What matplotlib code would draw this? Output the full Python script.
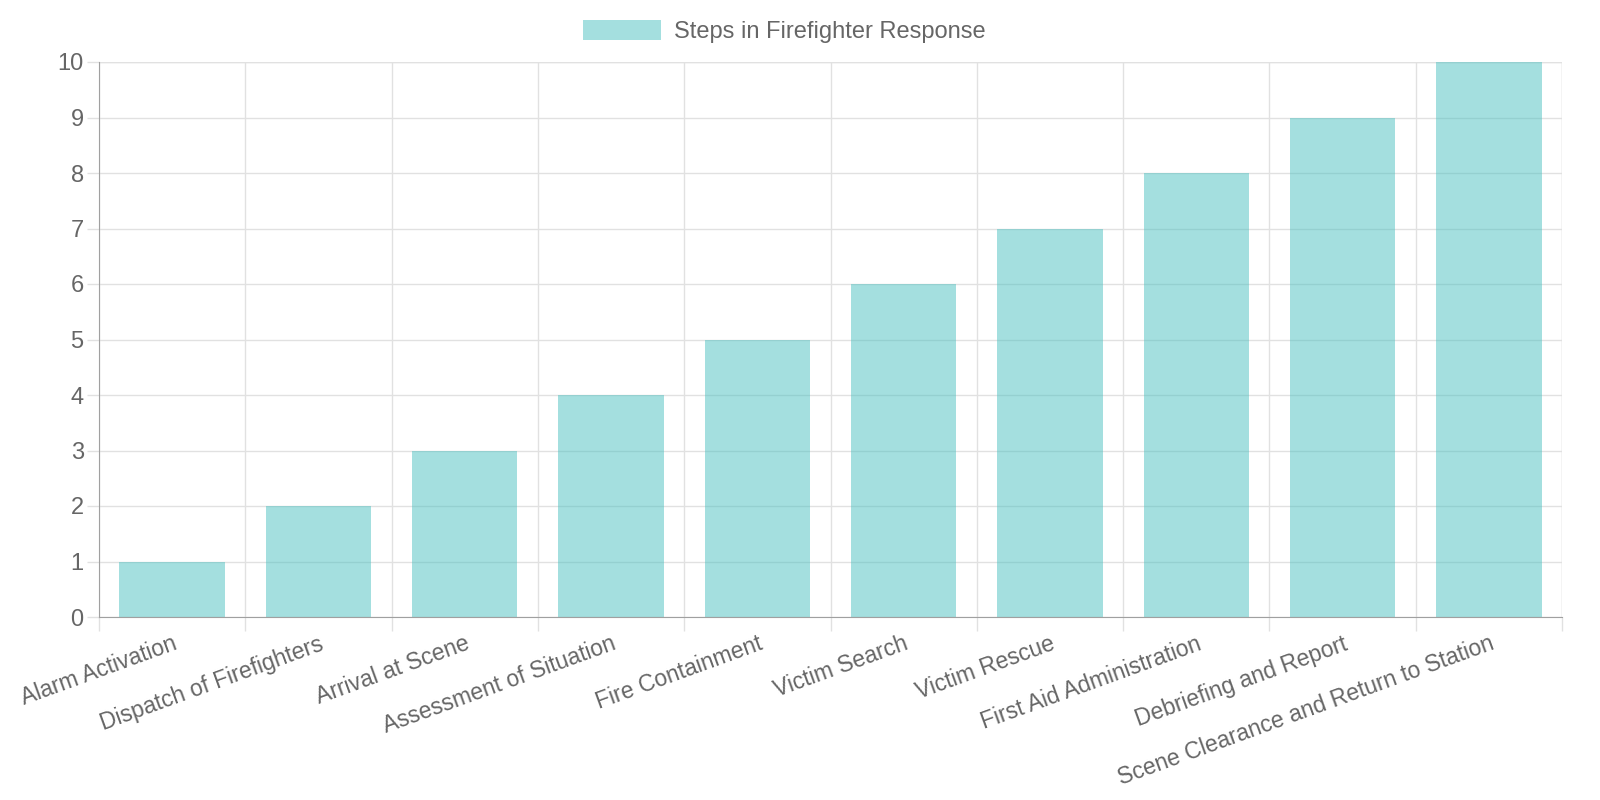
import matplotlib.pyplot as plt
import numpy as np

steps = ['Alarm Activation', 'Dispatch of Firefighters', 'Arrival at Scene',
         'Assessment of Situation', 'Fire Containment', 'Victim Search',
         'Victim Rescue', 'First Aid Administration', 'Debriefing and Report',
         'Scene Clearance and Return to Station']
order = [1, 2, 3, 4, 5, 6, 7, 8, 9, 10]
series_label = 'Steps in Firefighter Response'

plt.rcParams['font.family'] = ['Liberation Sans', 'DejaVu Sans']
text_color = '#666666'
grid_color = '#e1e1e1'

fig = plt.figure(figsize=(16, 8), dpi=100)
ax = fig.add_axes([99 / 1600, 1 - 617 / 800, (1562 - 99) / 1600, (617 - 62) / 800])

x = np.arange(len(steps))
ax.bar(x, order, width=0.72, color=(75 / 255, 192 / 255, 192 / 255, 0.5),
       label=series_label, zorder=3)

ax.set_xlim(-0.5, len(steps) - 0.5)
ax.set_ylim(0, 10)
ax.set_yticks(range(0, 11))
ax.tick_params(axis='y', labelsize=17, colors=text_color, length=9, width=1,
               color=grid_color, pad=2)

# category boundary gridlines, labels at centres
ax.set_xticks(np.arange(-0.5, len(steps)), minor=False)
ax.set_xticklabels([])
ax.set_xticks(x, minor=True)
ax.set_xticklabels(steps, minor=True, rotation=20, ha='right',
                   rotation_mode='anchor', fontsize=16.5, color=text_color)
ax.tick_params(axis='x', which='major', length=10, color=grid_color, width=1)
ax.tick_params(axis='x', which='minor', length=0, pad=11)

ax.grid(True, which='major', color=grid_color, linewidth=1, zorder=0)
ax.set_axisbelow(False)
for side in ['top', 'right']:
    ax.spines[side].set_visible(False)
ax.spines['left'].set_color('#a0a0a0')
ax.spines['bottom'].set_color('#a0a0a0')
ax.spines['left'].set_zorder(5)
ax.spines['bottom'].set_zorder(5)
ax.axhline(10, color=grid_color, linewidth=1, zorder=1)
ax.axvline(len(steps) - 0.5, color=grid_color, linewidth=1, zorder=1)

leg = fig.legend(loc='center', bbox_to_anchor=(0.49, 0.961), frameon=False,
                 fontsize=17, handlelength=3.3, handleheight=0.93, handletextpad=0.55)
for t in leg.get_texts():
    t.set_color(text_color)

fig.savefig('out.png', dpi=100, facecolor='white')
